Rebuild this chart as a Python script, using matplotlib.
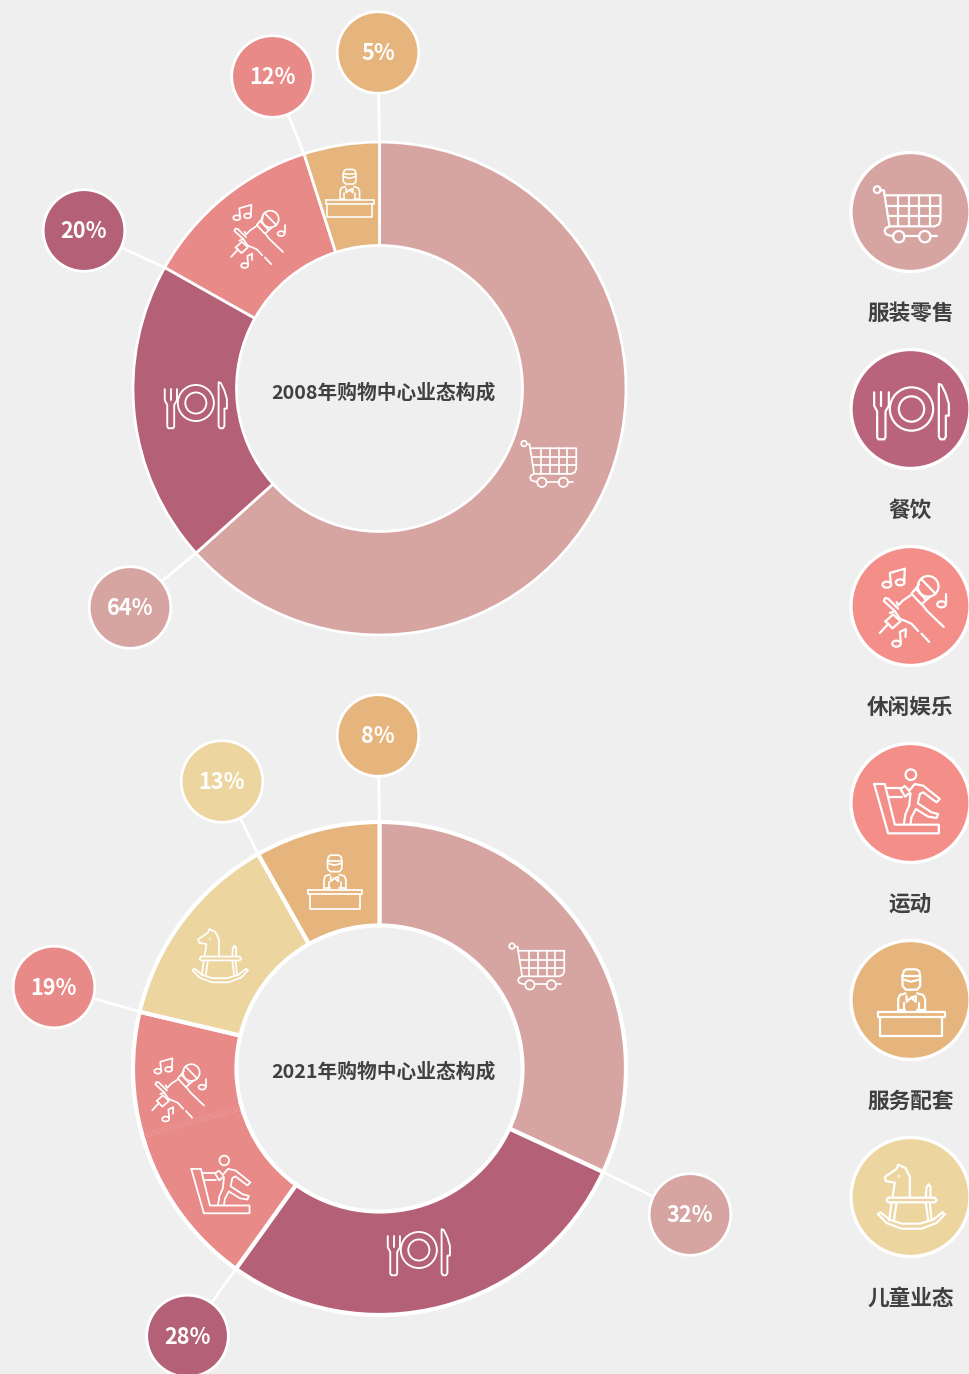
import numpy as np
import matplotlib
matplotlib.use("Agg")
import matplotlib.pyplot as plt
from matplotlib.patches import Circle, Ellipse

plt.rcParams['font.family'] = ['Noto Sans CJK SC', 'DejaVu Sans']

BG = '#efefef'
W, H = 970, 1374

# ---------- data ----------
categories = ['服装零售', '餐饮', '休闲娱乐', '运动', '服务配套', '儿童业态']
legend_colors = ['#d6a4a1', '#b9637c', '#f38e89', '#f38e89', '#e5b57d', '#ecd59f']
legend_icons = ['cart', 'plate', 'mic', 'run', 'staff', 'horse']

title_2008 = '2008年购物中心业态构成'
values_2008 = [64, 20, 12, 5]
colors_2008 = ['#d6a4a1', '#b46077', '#e88a88', '#e5b57d']
labels_2008 = ['64%', '20%', '12%', '5%']

title_2021 = '2021年购物中心业态构成'
values_2021 = [31.9, 28, 10.7, 8.1, 13.1, 8.2]
colors_2021 = ['#d6a4a1', '#b46077', '#e88a88', '#e88a88', '#ecd59f', '#e5b57d']
bubble_labels_2021 = ['32%', '28%', '19%', '13%', '8%']
bubble_ends_2021 = [0, 1, 3, 4, 5]  # slice whose end carries each bubble

fig = plt.figure(figsize=(W / 100, H / 100), dpi=100, facecolor=BG)
ax = fig.add_axes([0, 0, 1, 1])


def Y(py):
    return H - py


# ---------- icons, in a local coordinate frame ----------
def pl(*pts):
    return ('l', pts)


def circ(x, y, r):
    return ('c', x, y, r, r)


def ell(x, y, rx, ry):
    return ('c', x, y, rx, ry)


ICONS = {
    'cart': (212, 215, [
        circ(112, 148, 10),
        pl((122, 150), (132, 150), (149, 258)),
        pl((135, 165), (302, 165), (302, 240), (297, 252), (285, 258), (150, 258), (138, 263), (134, 272), (138, 281), (150, 286), (160, 286)),
        pl((194, 286), (238, 286)), pl((272, 286), (292, 286)),
        pl((175, 165), (175, 258)), pl((207, 165), (207, 258)), pl((238, 165), (238, 258)), pl((270, 165), (270, 258)),
        pl((140, 197), (302, 197)), pl((144, 227), (302, 227)),
        circ(177, 289, 17), circ(255, 289, 17),
    ]),
    'plate': (212, 805, [
        circ(215, 805, 65), circ(215, 805, 38),
        pl((103, 755), (103, 795), (112, 812), (112, 890), (116, 896), (133, 896), (137, 890), (137, 812), (147, 795), (147, 755)),
        pl((125, 755), (125, 795)),
        pl((297, 733), (297, 888), (302, 896), (313, 896), (318, 888), (318, 825), (327, 825), (327, 790), (318, 760), (305, 733), (297, 730)),
    ]),
    'mic': (212, 197, [
        circ(265, 138, 31),
        pl((244, 116), (287, 160)),
        pl((238, 132), (215, 160), (245, 192), (272, 168)),
        pl((228, 146), (258, 178)),
        pl((212, 165), (190, 180), (175, 195), (170, 185)),
        pl((175, 205), (145, 175), (136, 173), (132, 182), (165, 212), (150, 218)),
        pl((245, 190), (262, 212), (312, 260)),
        pl((165, 212), (180, 235), (215, 250), (235, 272)),
        pl((137, 243), (160, 222), (182, 243), (158, 264), (137, 243)),
        pl((146, 250), (120, 278)),
        pl((245, 280), (268, 305)),
        ell(141, 133, 13, 9), ell(181, 126, 13, 9),
        pl((153, 130), (150, 98), (195, 85), (193, 124)),
        ell(305, 192, 13, 9), pl((318, 190), (318, 160)),
        ell(170, 310, 13, 9), pl((183, 306), (180, 275), (198, 266), (197, 290)),
    ]),
    'run': (212, 787, [
        circ(213, 702, 16),
        pl((103, 730), (135, 730), (165, 852), (297, 852), (297, 878), (145, 878), (103, 730)),
        pl((140, 742), (183, 742)), pl((148, 768), (187, 768)),
        pl((208, 750), (195, 736), (182, 745), (196, 768), (210, 756)),
        pl((208, 750), (225, 730), (250, 735), (300, 775), (290, 785), (250, 755), (240, 760), (234, 788), (275, 815), (295, 820), (290, 832), (265, 828), (228, 805), (215, 830), (212, 850)),
        pl((212, 758), (208, 795), (197, 820), (192, 850)),
    ]),
    'staff': (212, 207, [
        pl((188, 135), (192, 120), (200, 115), (228, 115), (238, 120), (241, 135), (241, 165), (232, 176), (198, 176), (188, 165), (188, 135)),
        pl((188, 135), (241, 135)), pl((188, 145), (214, 152), (241, 145)),
        pl((197, 187), (180, 192), (175, 205), (175, 240)), pl((232, 187), (250, 192), (256, 205), (256, 240)),
        pl((200, 195), (200, 212), (214, 200), (228, 212), (228, 195), (214, 200)),
        pl((192, 215), (192, 235)), pl((238, 215), (238, 235)),
        pl((175, 238), (197, 238)), pl((232, 238), (256, 238)),
        pl((115, 244), (315, 244), (315, 258), (115, 258), (115, 244)),
        pl((122, 258), (122, 315), (308, 315), (308, 258)),
    ]),
    'horse': (212, 800, [
        pl((210, 800), (210, 740), (197, 713), (175, 703), (170, 716), (135, 740), (138, 752), (165, 757), (158, 800)),
        pl((272, 800), (272, 770), (266, 762), (260, 772), (258, 800)),
        pl((145, 802), (285, 802), (290, 810), (285, 816), (145, 816), (140, 810), (145, 802)),
        pl((155, 818), (148, 870)), pl((170, 818), (162, 872)),
        pl((258, 818), (265, 870)), pl((270, 818), (275, 866)),
        pl((115, 852), (122, 846), (150, 868), (185, 880), (240, 880), (280, 868), (308, 846), (315, 852), (290, 878), (245, 895), (185, 895), (140, 878), (115, 852)),
        circ(177, 737, 1),
    ]),
}


def draw_icon(name, px, py, s, lw, z=6):
    ox, oy, parts = ICONS[name]
    for p in parts:
        if p[0] == 'l':
            pts = np.array(p[1], float)
            ax.plot(px + (pts[:, 0] - ox) * s, Y(py + (pts[:, 1] - oy) * s), color='white', lw=lw,
                    solid_capstyle='round', solid_joinstyle='round', zorder=z)
        else:
            _, x, y, rx, ry = p
            ax.add_patch(Ellipse((px + (x - ox) * s, Y(py + (y - oy) * s)), 2 * rx * s, 2 * ry * s,
                                 fc='none', ec='white', lw=lw, zorder=z))


def boundary(cx, cy, r, values, i):
    """Point on the outer rim at the clockwise end of slice i."""
    a = np.pi / 2 - 2 * np.pi * sum(values[:i + 1]) / sum(values)
    return cx + r * np.cos(a), cy + r * np.sin(a)


def donut(cpx, cpy, values, colors, edge_lw):
    ax.pie(values, colors=colors, startangle=90, counterclock=False, radius=246.5,
           center=(cpx, Y(cpy)), frame=True,
           wedgeprops=dict(width=103.5, edgecolor='white', linewidth=edge_lw, zorder=3))


def bubble(px, py, text, color, start):
    ax.plot([start[0], px], [start[1], Y(py)], color='white', lw=2.0, zorder=2)
    ax.add_patch(Circle((px, Y(py)), 40.8, fc=color, ec='white', lw=2.0, zorder=4))
    ax.text(px, Y(py) - 1.2, text, color='white', fontsize=15.6, fontweight='bold', ha='center', va='center', zorder=5)


# ---------- 2008 donut ----------
c1 = (379.5, 388.5)
donut(c1[0], c1[1], values_2008, colors_2008, 2.0)
pos_2008 = [(130, 607.5), (84, 230.5), (272.5, 76.5), (378, 52.5)]
for i, (lab, pos) in enumerate(zip(labels_2008, pos_2008)):
    bubble(pos[0], pos[1], lab, colors_2008[i], boundary(c1[0], Y(c1[1]), 246, values_2008, i))
ax.text(383.5, Y(393.2), title_2008, color='#404040', fontsize=14.2, fontweight='bold', ha='center', va='center', zorder=5)

draw_icon('cart', 551.5, 462, .275, 1.25)
draw_icon('plate', 195, 403, .2775, 1.35)
draw_icon('mic', 256, 235, .27, 1.25)
draw_icon('staff', 349, 191.5, .24, 1.15)

# ---------- 2021 donut ----------
c2 = (379.5, 1068.5)
donut(c2[0], c2[1], values_2021, colors_2021, 3.0)
# faint dashed divider between the two same-coloured slices
inner = boundary(c2[0], Y(c2[1]), 143, values_2021, 2)
outer = boundary(c2[0], Y(c2[1]), 246, values_2021, 2)
ax.plot([inner[0], outer[0]], [inner[1], outer[1]], color='#e88a88', lw=3.4, zorder=4, solid_capstyle='butt')
ax.plot([inner[0], outer[0]], [inner[1], outer[1]], color='#eda5a3', lw=0.5, ls=(0, (3, 2)), zorder=4)
# restore outer / inner rim at the divider
for rr in (246.5, 143):
    a0 = np.arctan2(outer[1] - Y(c2[1]), outer[0] - c2[0])
    th = np.linspace(a0 - .03, a0 + .03, 8)
    ax.plot(c2[0] + rr * np.cos(th), Y(c2[1]) + rr * np.sin(th), color='white', lw=3.0, zorder=5)

pos_2021 = [(690, 1214.5), (187.5, 1336), (54, 987), (222, 781.5), (378, 735.5)]
bubble_colors_2021 = ['#d6a4a1', '#b46077', '#e88a88', '#ecd59f', '#e5b57d']
for lab, pos, j, col in zip(bubble_labels_2021, pos_2021, bubble_ends_2021, bubble_colors_2021):
    bubble(pos[0], pos[1], lab, col, boundary(c2[0], Y(c2[1]), 246, values_2021, j))
ax.text(383.5, Y(1072.2), title_2021, color='#404040', fontsize=14.2, fontweight='bold', ha='center', va='center', zorder=5)

draw_icon('cart', 539.5, 964.5, .275, 1.25)
draw_icon('plate', 418, 1250, .2775, 1.35)
draw_icon('mic', 177, 1088.5, .27, 1.25)
draw_icon('run', 224, 1186, .30, 1.3)
draw_icon('horse', 219.5, 956, .277, 1.25)
draw_icon('staff', 334, 880, .27, 1.25)

# ---------- legend ----------
leg_y = [212, 409, 606, 803, 1000, 1197]
lab_y = [313.2, 510.2, 707.2, 904.2, 1101.2, 1298.2]
for name, col, ic, cy, ly in zip(categories, legend_colors, legend_icons, leg_y, lab_y):
    ax.add_patch(Circle((910.5, Y(cy)), 59.5, fc=col, ec='white', lw=2.4, zorder=4))
    draw_icon(ic, 910.5, cy, 1 / 3, 1.6)
    ax.text(910.5, Y(ly), name, color='#404040', fontsize=15.6, fontweight='bold', ha='center', va='center', zorder=5)

ax.set_xlim(0, W)
ax.set_ylim(0, H)
ax.set_aspect('equal')
ax.axis('off')
fig.savefig('out.png', dpi=100, facecolor=BG)
